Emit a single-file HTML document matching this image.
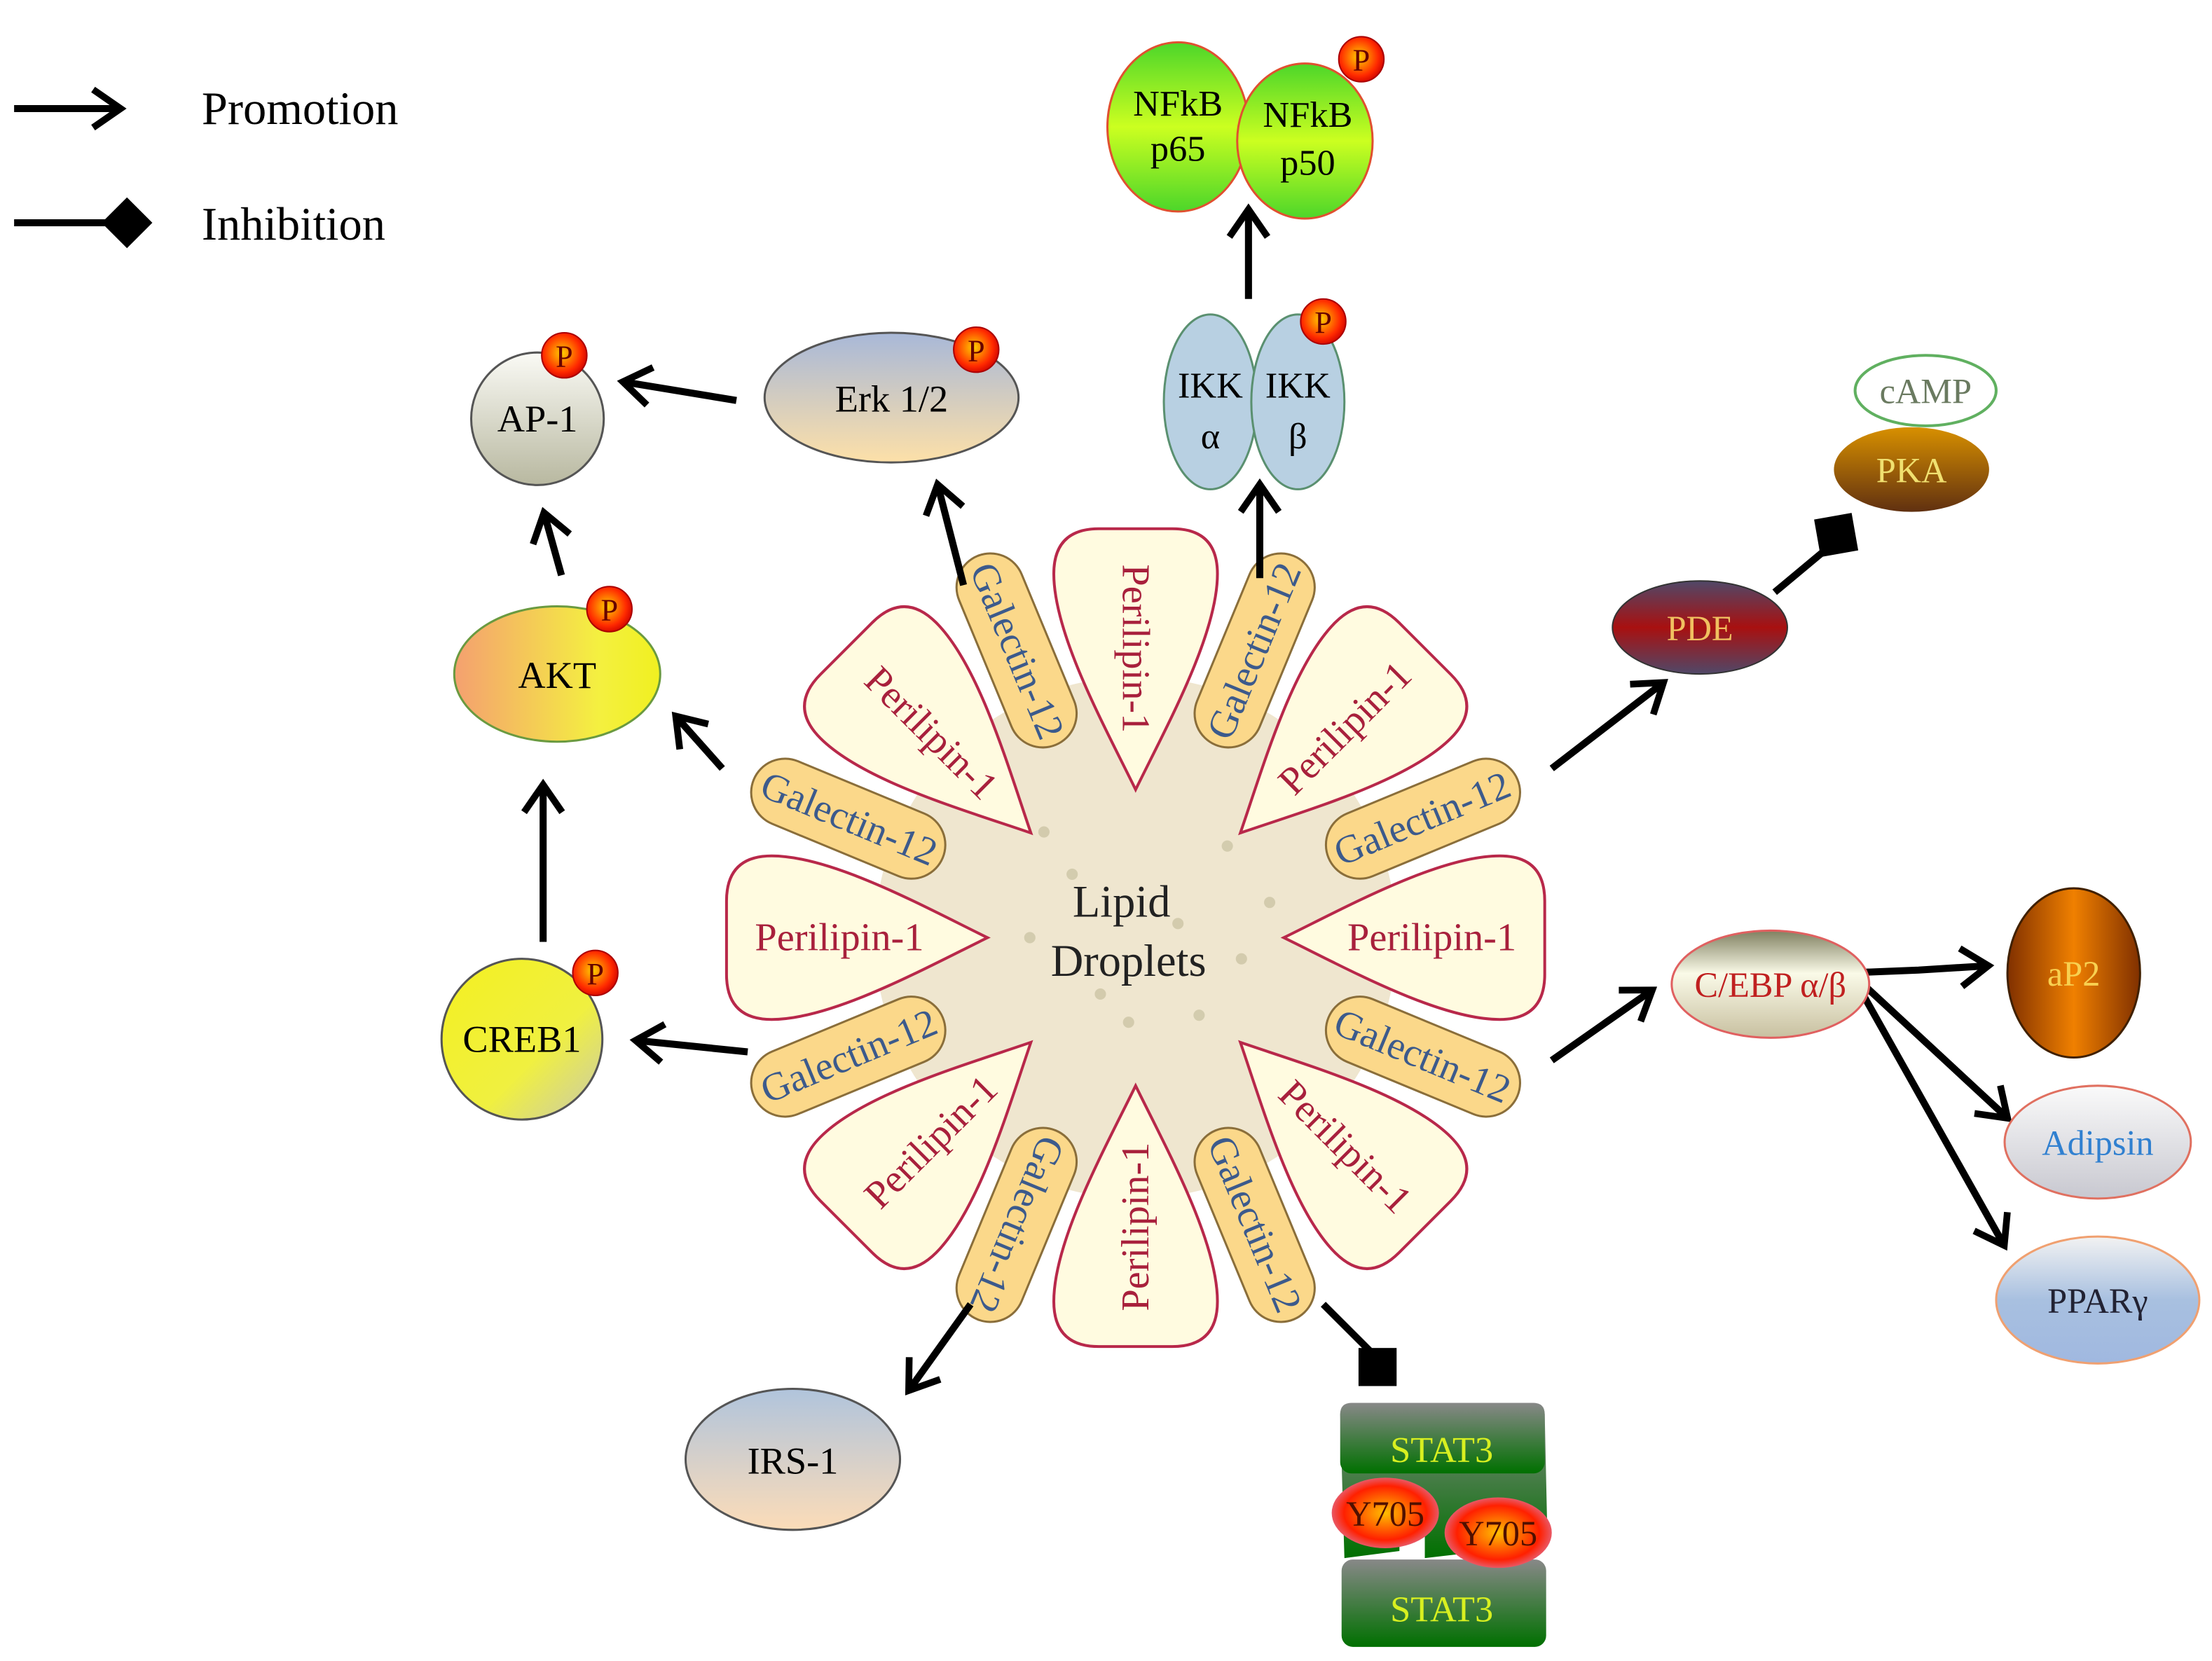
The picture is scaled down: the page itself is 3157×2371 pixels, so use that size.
<!DOCTYPE html>
<html><head><meta charset="utf-8"><style>html,body{margin:0;padding:0;background:#fff}svg{display:block}</style></head><body>
<svg xmlns="http://www.w3.org/2000/svg" width="3157" height="2371" viewBox="0 0 1568 1178" preserveAspectRatio="none" font-family="'Liberation Serif', serif">
<defs>
<marker id="ar" viewBox="0 0 20 20" refX="15" refY="10" markerWidth="6" markerHeight="6" orient="auto" markerUnits="strokeWidth" overflow="visible">
<path d="M3,1 L16,10 L3,19" fill="none" stroke="#000" stroke-width="3.2" stroke-linejoin="miter"/>
</marker>
<radialGradient id="gP" cx="0.45" cy="0.45" r="0.6"><stop offset="0" stop-color="#ffd000"/><stop offset="0.7" stop-color="#ff2a00"/><stop offset="1" stop-color="#c00"/></radialGradient>
<linearGradient id="gNF" x1="0" y1="0" x2="0" y2="1"><stop offset="0" stop-color="#4cd62a"/><stop offset="0.5" stop-color="#ccff20"/><stop offset="1" stop-color="#4cd62a"/></linearGradient>
<linearGradient id="gErk" x1="0" y1="0" x2="0" y2="1"><stop offset="0" stop-color="#a8b8d8"/><stop offset="1" stop-color="#fde0a8"/></linearGradient>
<linearGradient id="gAP" x1="0" y1="0" x2="0" y2="1"><stop offset="0" stop-color="#fafaf5"/><stop offset="1" stop-color="#b8b8a0"/></linearGradient>
<linearGradient id="gAKT" x1="0" y1="0" x2="1" y2="0"><stop offset="0" stop-color="#f4a070"/><stop offset="0.7" stop-color="#f4f040"/><stop offset="1" stop-color="#f0f020"/></linearGradient>
<linearGradient id="gCREB" x1="0" y1="0" x2="1" y2="1"><stop offset="0" stop-color="#f4f020"/><stop offset="0.6" stop-color="#f0f040"/><stop offset="1" stop-color="#c8c8b0"/></linearGradient>
<linearGradient id="gIRS" x1="0" y1="0" x2="0" y2="1"><stop offset="0" stop-color="#b0c4dc"/><stop offset="1" stop-color="#fcdcb8"/></linearGradient>
<linearGradient id="gPDE" x1="0" y1="0" x2="0" y2="1"><stop offset="0" stop-color="#504868"/><stop offset="0.5" stop-color="#a81010"/><stop offset="1" stop-color="#504868"/></linearGradient>
<linearGradient id="gPKA" x1="0" y1="0" x2="0" y2="1"><stop offset="0" stop-color="#d89000"/><stop offset="1" stop-color="#603010"/></linearGradient>
<linearGradient id="gCEBP" x1="0" y1="0" x2="0" y2="1"><stop offset="0" stop-color="#808060"/><stop offset="0.4" stop-color="#fafae8"/><stop offset="1" stop-color="#c8c0a0"/></linearGradient>
<linearGradient id="gAP2" x1="0" y1="0" x2="1" y2="0"><stop offset="0" stop-color="#803000"/><stop offset="0.5" stop-color="#f08000"/><stop offset="1" stop-color="#803000"/></linearGradient>
<linearGradient id="gAd" x1="0" y1="0" x2="0" y2="1"><stop offset="0" stop-color="#fafafa"/><stop offset="1" stop-color="#c8c8d0"/></linearGradient>
<linearGradient id="gPP" x1="0" y1="0" x2="0" y2="1"><stop offset="0" stop-color="#f2f2f2"/><stop offset="0.5" stop-color="#a8c0e0"/><stop offset="1" stop-color="#a0b8e0"/></linearGradient>
<linearGradient id="gST" x1="0" y1="0" x2="0" y2="1"><stop offset="0" stop-color="#888888"/><stop offset="1" stop-color="#007000"/></linearGradient>
<radialGradient id="gY" cx="0.5" cy="0.5" r="0.55"><stop offset="0" stop-color="#ffc000"/><stop offset="0.7" stop-color="#ff2000"/><stop offset="1" stop-color="#e07090"/></radialGradient>
<path id="pet" d="M105,0 C150,-22 215,-58 258,-58 Q290,-58 290,-26 L290,26 Q290,58 258,58 C215,58 150,22 105,0 Z" fill="#fffbe0" stroke="#b8284a" stroke-width="2"/>
<rect id="gal" x="148" y="-24" width="145" height="48" rx="24" fill="#fbd88a" stroke="#8a6e3a" stroke-width="1.5"/>
</defs>

<line x1="10" y1="77" x2="84" y2="77" stroke="#000" stroke-width="5" marker-end="url(#ar)"/>
<text x="143" y="88" font-size="33">Promotion</text>
<line x1="10" y1="158" x2="75" y2="158" stroke="#000" stroke-width="5"/>
<path d="M90,140 L108,158 L90,176 L72,158 Z" fill="#000"/>
<text x="143" y="170" font-size="33">Inhibition</text>

<circle cx="805" cy="665" r="185" fill="#efe6cf"/>
<g fill="#c8c0a0" opacity="0.7">
<circle cx="760" cy="620" r="4"/><circle cx="870" cy="600" r="4"/><circle cx="900" cy="640" r="4"/><circle cx="835" cy="655" r="4"/><circle cx="780" cy="705" r="4"/><circle cx="880" cy="680" r="4"/><circle cx="730" cy="665" r="4"/><circle cx="850" cy="720" r="4"/><circle cx="800" cy="725" r="4"/><circle cx="740" cy="590" r="4"/>
</g>

<g font-size="28" fill="#a8203c" text-anchor="middle">
<g transform="translate(805,665) rotate(-90)"><use href="#pet"/><text x="205" y="9" transform="rotate(180,205,0)">Perilipin-1</text></g>
<g transform="translate(805,665) rotate(-45)"><use href="#pet"/><text x="210" y="9">Perilipin-1</text></g>
<g transform="translate(805,665) rotate(0)"><use href="#pet"/><text x="210" y="9">Perilipin-1</text></g>
<g transform="translate(805,665) rotate(45)"><use href="#pet"/><text x="210" y="9">Perilipin-1</text></g>
<g transform="translate(805,665) rotate(90)"><use href="#pet"/><text x="205" y="9" transform="rotate(180,205,0)">Perilipin-1</text></g>
<g transform="translate(805,665) rotate(135)"><use href="#pet"/><text x="205" y="9" transform="rotate(180,205,0)">Perilipin-1</text></g>
<g transform="translate(805,665) rotate(180)"><use href="#pet"/><text x="210" y="9" transform="rotate(180,210,0)">Perilipin-1</text></g>
<g transform="translate(805,665) rotate(225)"><use href="#pet"/><text x="205" y="9" transform="rotate(180,205,0)">Perilipin-1</text></g>
</g>

<g font-size="28" fill="#3c5a8c" text-anchor="middle">
<g transform="translate(805,665) rotate(-67.5)"><use href="#gal"/><text x="220" y="9">Galectin-12</text></g>
<g transform="translate(805,665) rotate(-22.5)"><use href="#gal"/><text x="220" y="9">Galectin-12</text></g>
<g transform="translate(805,665) rotate(22.5)"><use href="#gal"/><text x="220" y="9">Galectin-12</text></g>
<g transform="translate(805,665) rotate(67.5)"><use href="#gal"/><text x="220" y="9">Galectin-12</text></g>
<g transform="translate(805,665) rotate(112.5)"><use href="#gal"/><text x="220" y="9">Galectin-12</text></g>
<g transform="translate(805,665) rotate(157.5)"><use href="#gal"/><text x="220" y="9" transform="rotate(180,220,0)">Galectin-12</text></g>
<g transform="translate(805,665) rotate(202.5)"><use href="#gal"/><text x="220" y="9" transform="rotate(180,220,0)">Galectin-12</text></g>
<g transform="translate(805,665) rotate(247.5)"><use href="#gal"/><text x="220" y="9" transform="rotate(180,220,0)">Galectin-12</text></g>
</g>
<text x="795" y="650" font-size="32" text-anchor="middle" fill="#222">Lipid</text>
<text x="800" y="692" font-size="32" text-anchor="middle" fill="#222">Droplets</text>

<g stroke="#000" stroke-width="5" fill="none">
<line x1="885" y1="212" x2="885" y2="150" marker-end="url(#ar)"/>
<line x1="893" y1="410" x2="893" y2="345" marker-end="url(#ar)"/>
<line x1="522" y1="284" x2="443" y2="271" marker-end="url(#ar)"/>
<line x1="683" y1="415" x2="665" y2="345" marker-end="url(#ar)"/>
<line x1="398" y1="408" x2="386" y2="365" marker-end="url(#ar)"/>
<line x1="512" y1="545" x2="480" y2="509" marker-end="url(#ar)"/>
<line x1="385" y1="668" x2="385" y2="558" marker-end="url(#ar)"/>
<line x1="530" y1="746" x2="452" y2="738" marker-end="url(#ar)"/>
<line x1="688" y1="925" x2="645" y2="985" marker-end="url(#ar)"/>
<line x1="1100" y1="545" x2="1178" y2="485" marker-end="url(#ar)"/>
<line x1="1100" y1="752" x2="1170" y2="703" marker-end="url(#ar)"/>
<polyline points="1310,690 1360,688 1408,685" marker-end="url(#ar)"/>
<line x1="1312" y1="690" x2="1422" y2="792" marker-end="url(#ar)"/>
<line x1="1312" y1="690" x2="1420" y2="882" marker-end="url(#ar)"/>
<line x1="938" y1="925" x2="975" y2="962"/>
<line x1="1258" y1="420" x2="1300" y2="385"/>
</g>
<rect x="963" y="956" width="27" height="27" fill="#000"/>
<rect x="1288" y="366" width="27" height="27" fill="#000" transform="rotate(-10,1301,379)"/>

<ellipse cx="835" cy="90" rx="50" ry="60" fill="url(#gNF)" stroke="#e05030" stroke-width="1.5"/>
<ellipse cx="925" cy="100" rx="48" ry="55" fill="url(#gNF)" stroke="#e05030" stroke-width="1.5"/>
<text x="835" y="82" font-size="26" text-anchor="middle">NFkB</text><text x="835" y="114" font-size="26" text-anchor="middle">p65</text>
<text x="927" y="90" font-size="26" text-anchor="middle">NFkB</text><text x="927" y="124" font-size="26" text-anchor="middle">p50</text>

<ellipse cx="858" cy="285" rx="33" ry="62" fill="#b8d0e2" stroke="#5a9070" stroke-width="1.5"/>
<ellipse cx="920" cy="285" rx="33" ry="62" fill="#b8d0e2" stroke="#5a9070" stroke-width="1.5"/>
<text x="858" y="282" font-size="26" text-anchor="middle">IKK</text><text x="858" y="318" font-size="26" text-anchor="middle">α</text>
<text x="920" y="282" font-size="26" text-anchor="middle">IKK</text><text x="920" y="318" font-size="26" text-anchor="middle">β</text>

<ellipse cx="632" cy="282" rx="90" ry="46" fill="url(#gErk)" stroke="#555" stroke-width="1.5"/>
<text x="632" y="292" font-size="27" text-anchor="middle">Erk 1/2</text>
<circle cx="381" cy="297" r="47" fill="url(#gAP)" stroke="#555" stroke-width="1.5"/>
<text x="381" y="306" font-size="27" text-anchor="middle">AP-1</text>
<ellipse cx="395" cy="478" rx="73" ry="48" fill="url(#gAKT)" stroke="#6a9a40" stroke-width="1.5"/>
<text x="395" y="488" font-size="27" text-anchor="middle">AKT</text>
<circle cx="370" cy="737" r="57" fill="url(#gCREB)" stroke="#555" stroke-width="1.5"/>
<text x="370" y="746" font-size="27" text-anchor="middle">CREB1</text>
<ellipse cx="562" cy="1035" rx="76" ry="50" fill="url(#gIRS)" stroke="#555" stroke-width="1.5"/>
<text x="562" y="1045" font-size="27" text-anchor="middle">IRS-1</text>

<g font-size="22" text-anchor="middle" fill="#600">
<circle cx="965" cy="42" r="16" fill="url(#gP)" stroke="#a00"/><text x="965" y="50">P</text>
<circle cx="938" cy="228" r="16" fill="url(#gP)" stroke="#a00"/><text x="938" y="236">P</text>
<circle cx="692" cy="248" r="16" fill="url(#gP)" stroke="#a00"/><text x="692" y="256">P</text>
<circle cx="400" cy="252" r="16" fill="url(#gP)" stroke="#a00"/><text x="400" y="260">P</text>
<circle cx="432" cy="432" r="16" fill="url(#gP)" stroke="#a00"/><text x="432" y="440">P</text>
<circle cx="422" cy="690" r="16" fill="url(#gP)" stroke="#a00"/><text x="422" y="698">P</text>
</g>

<path d="M950,1003 Q950,995 958,995 L1087,995 Q1095,995 1095,1003 L1097,1095 L1010,1105 L1010,1060 L992,1060 L992,1100 L953,1105 Z" fill="url(#gST)"/>
<rect x="950" y="995" width="145" height="50" rx="8" fill="url(#gST)"/>
<rect x="951" y="1106" width="145" height="62" rx="8" fill="url(#gST)"/>
<text x="1022" y="1037" font-size="26" text-anchor="middle" fill="#d8f020">STAT3</text>
<text x="1022" y="1150" font-size="26" text-anchor="middle" fill="#d8f020">STAT3</text>
<ellipse cx="982" cy="1073" rx="38" ry="25" fill="url(#gY)"/>
<ellipse cx="1062" cy="1087" rx="38" ry="25" fill="url(#gY)"/>
<text x="982" y="1082" font-size="25" text-anchor="middle" fill="#501000">Y705</text>
<text x="1062" y="1096" font-size="25" text-anchor="middle" fill="#501000">Y705</text>

<ellipse cx="1205" cy="445" rx="62" ry="33" fill="url(#gPDE)" stroke="#333" stroke-width="1"/>
<text x="1205" y="454" font-size="25" text-anchor="middle" fill="#f0c060">PDE</text>
<ellipse cx="1365" cy="277" rx="50" ry="25" fill="#fff" stroke="#60b060" stroke-width="2"/>
<text x="1365" y="286" font-size="25" text-anchor="middle" fill="#6a7a60">cAMP</text>
<ellipse cx="1355" cy="333" rx="55" ry="30" fill="url(#gPKA)"/>
<text x="1355" y="342" font-size="25" text-anchor="middle" fill="#f0e070">PKA</text>
<ellipse cx="1255" cy="698" rx="70" ry="38" fill="url(#gCEBP)" stroke="#e06060" stroke-width="1.5"/>
<text x="1255" y="707" font-size="25" text-anchor="middle" fill="#c02020">C/EBP α/β</text>
<ellipse cx="1470" cy="690" rx="47" ry="60" fill="url(#gAP2)" stroke="#402000" stroke-width="1.5"/>
<text x="1470" y="699" font-size="25" text-anchor="middle" fill="#f8d050">aP2</text>
<ellipse cx="1487" cy="810" rx="66" ry="40" fill="url(#gAd)" stroke="#e07060" stroke-width="1.5"/>
<text x="1487" y="819" font-size="25" text-anchor="middle" fill="#3080d0">Adipsin</text>
<ellipse cx="1487" cy="922" rx="72" ry="45" fill="url(#gPP)" stroke="#f0a070" stroke-width="1.5"/>
<text x="1487" y="931" font-size="25" text-anchor="middle" fill="#223">PPARγ</text>
</svg>
</body></html>
